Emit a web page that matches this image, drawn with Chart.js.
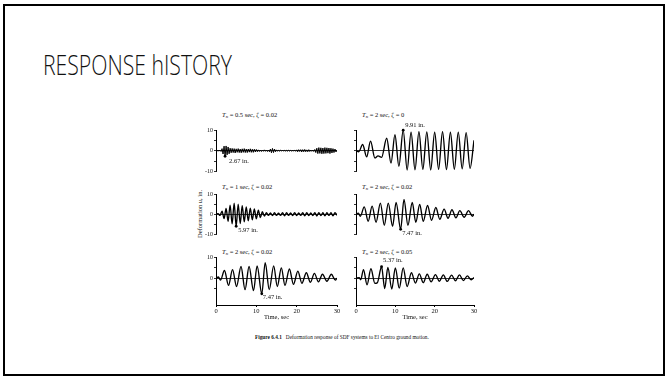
<!DOCTYPE html>
<html>
<head>
<meta charset="utf-8">
<script src="https://cdn.jsdelivr.net/npm/chart.js@4.4.1/dist/chart.umd.min.js"></script>
<style>
  html, body { margin: 0; padding: 0; background: #fff; }
  #slide { position: relative; width: 668px; height: 379px; overflow: hidden; }
  #frame { position: absolute; left: 3px; top: 4px; width: 662px; height: 372px; box-sizing: border-box; border: 2px solid #000; }
  #heading { position: absolute; left: 43px; top: 50px; font-family: "Open Sans"; font-weight: 300; font-size: 28px; line-height: 28px; color: #111; white-space: nowrap; transform-origin: 0 0; }
  canvas { position: absolute; }
  .ptitle { position: absolute; font-family: "Liberation Serif"; font-size: 6.5px; line-height: 8px; white-space: nowrap; color: #111; }
  .ptitle sub { font-size: 4.8px; line-height: 0; vertical-align: -1px; font-style: italic; }
  #ylab { position: absolute; left: 200px; top: 214px; font-family: "Liberation Serif"; font-size: 6.5px; line-height: 8px; white-space: nowrap; transform: translate(-50%, -50%) rotate(-90deg); color: #111; }
  #caption { position: absolute; left: 255px; top: 334px; font-family: "Liberation Serif"; font-size: 5.3px; line-height: 7px; white-space: nowrap; color: #111; }
</style>
</head>
<body>
<div id="slide">
  <div id="frame"></div>
  <div id="heading">RESPONSE hISTORY</div>

  <div class="ptitle" style="left:222px; top:111px"><i>T</i><sub>n</sub> = 0.5 sec, ζ = 0.02</div>
  <div class="ptitle" style="left:222px; top:183px"><i>T</i><sub>n</sub> = 1 sec, ζ = 0.02</div>
  <div class="ptitle" style="left:222px; top:248px"><i>T</i><sub>n</sub> = 2 sec, ζ = 0.02</div>
  <div class="ptitle" style="left:362px; top:111px"><i>T</i><sub>n</sub> = 2 sec, ζ = 0</div>
  <div class="ptitle" style="left:362px; top:183px"><i>T</i><sub>n</sub> = 2 sec, ζ = 0.02</div>
  <div class="ptitle" style="left:362px; top:248px"><i>T</i><sub>n</sub> = 2 sec, ζ = 0.05</div>

  <div id="ylab">Deformation <i>u</i>, in.</div>

  <canvas id="l1" width="146" height="56" style="left:196px; top:120px"></canvas>
  <canvas id="l2" width="146" height="55" style="left:196px; top:184px"></canvas>
  <canvas id="l3" width="146" height="74" style="left:196px; top:247px"></canvas>
  <canvas id="r1" width="128" height="56" style="left:352px; top:120px"></canvas>
  <canvas id="r2" width="128" height="55" style="left:352px; top:184px"></canvas>
  <canvas id="r3" width="128" height="74" style="left:352px; top:247px"></canvas>

  <div id="caption"><b>Figure 6.4.1</b>&nbsp;&nbsp;&nbsp;Deformation response of SDF systems to El Centro ground motion.</div>
</div>

<script>
// time axis ticks (sec) and deformation ticks (in.)
const timeTicks = [0, 10, 20, 30];
const defTicks = [-10, 0, 10];

// Tn = 0.5 sec, zeta = 0.02 : one reading every 0.25 sec
const tn05Step = 0.25;
const tn05Values = [
  0, -0.05, 0.05, -0.1,
  0.2, -0.4, 1.0, -1.6,
  2.2, -2.67, 2.3, -2.0,
  1.8, -1.5, 1.2, -1.0,
  1.1, -0.9, 1.0, -1.1,
  0.9, -0.8, 1.0, -0.9,
  0.8, -1.0, 0.9, -0.8,
  1.0, -0.9, 0.8, -0.9,
  0.8, -0.7, 0.9, -0.8,
  0.7, -0.8, 0.7, -0.6,
  0.6, -0.5, 0.4, -0.4,
  0.3, -0.4, 0.3, -0.3,
  0.4, -0.3, 0.3, -0.4,
  0.3, -0.5, 0.8, -1.0,
  1.1, -0.9, 0.8, -0.5,
  0.4, -0.3, 0.2, -0.2,
  0.2, -0.2, 0.3, -0.2,
  0.2, -0.3, 0.2, -0.2,
  0.2, -0.2, 0.2, -0.3,
  0.3, -0.2, 0.2, -0.3,
  0.4, -0.5, 0.5, -0.4,
  0.5, -0.6, 0.5, -0.5,
  0.6, -0.5, 0.4, -0.5,
  0.5, -0.4, 0.3, -0.3,
  0.3, -0.4, 0.6, -0.9,
  1.2, -1.4, 1.5, -1.3,
  1.4, -1.5, 1.3, -1.4,
  1.5, -1.3, 1.4, -1.2,
  1.3, -1.4, 1.2, -1.1,
  1.0, -0.9, 0.8, -0.6,
  0.3
];

// Tn = 1 sec, zeta = 0.02 : one reading every 0.5 sec
const tn1Step = 0.5;
const tn1Values = [
  0, 0.3, -0.6, 1.5, -2.2, 2.8, -3.5, 4.5, -4.8, 5.5,
  -5.97, 5.0, -4.6, 4.2, -3.8, 3.6, -3.3, 3.0, -2.8, 2.6,
  -2.3, 2.0, -1.7, 1.2, -0.9, 0.7, -0.6, 0.6, -0.7, 0.7,
  -0.6, 0.5, -0.6, 0.7, -0.8, 0.7, -0.6, 0.6, -0.7, 0.8,
  -0.7, 0.6, -0.6, 0.7, -0.8, 0.8, -0.7, 0.6, -0.7, 0.8,
  -0.9, 0.8, -0.7, 0.7, -0.8, 0.7, -0.6, 0.7, -0.8, 0.7,
  -0.5
];

// Tn = 2 sec, zeta = 0.02 : peaks and troughs
const tn2z002Times = [0, 0.6, 1.1, 2.1, 3.1, 4.1, 5.1, 6.2, 7.2, 8.2, 9.3, 10.2, 11.35, 12.2, 13.2, 14.3,
  15.2, 16.2, 17.1, 18.2, 19.2, 20.3, 21.3, 22.4, 23.4, 24.4, 25.4, 26.4, 27.5, 28.6, 29.6, 30];
const tn2z002Values = [0, 0.5, -1.0, 3.6, -3.5, 4.0, -4.0, 5.5, -5.5, 5.5, -6.0, 5.8, -7.47, 7.3, -5.5, 5.8,
  -4.0, 4.8, -3.5, 4.3, -3.0, 3.3, -2.5, 2.5, -2.0, 2.2, -1.8, 1.8, -1.5, 1.8, -1.0, 0];

// Tn = 2 sec, zeta = 0 : peaks and troughs
const tn2z0Times = [0, 0.7, 1.7, 2.7, 3.7, 4.8, 5.6, 6.5, 7.8, 8.9, 9.9, 10.9, 12.0, 13.0, 14.0, 15.0,
  16.0, 17.0, 18.0, 19.0, 20.0, 21.0, 22.0, 23.0, 24.0, 25.0, 26.0, 27.0, 28.0, 29.0, 30.0];
const tn2z0Values = [0, -0.5, 3.0, -3.0, 4.6, -3.5, -2.5, -3.2, 6.0, -6.0, 7.7, -7.5, 9.91, -9.3, 9.0, -9.2,
  9.2, -9.0, 9.1, -9.3, 9.0, -9.0, 9.2, -9.1, 8.9, -9.0, 9.0, -8.8, 8.7, -8.5, 5.0];

// Tn = 2 sec, zeta = 0.05 : peaks and troughs
const tn2z005Times = [0, 0.8, 1.2, 1.9, 2.8, 3.8, 4.8, 5.4, 6.5, 7.3, 8.1, 9.1, 10.0, 11.0, 12.0, 13.0, 14.1,
  15.1, 16.1, 17.1, 18.1, 19.1, 20.2, 21.2, 22.2, 23.2, 24.3, 25.3, 26.3, 27.3, 28.3, 29.3, 30];
const tn2z005Values = [0, 0.2, -0.8, 4.0, -3.2, 4.4, -2.5, -2.3, 5.37, -5.0, 5.0, -5.2, 4.8, -4.8, 4.8, -4.0, 2.5,
  -2.4, 2.0, -2.2, 1.8, -1.8, 1.6, -1.5, 1.5, -1.6, 1.4, -1.3, 1.5, -1.2, 1.0, -0.8, 0.3];

const serif = '"Liberation Serif", "DejaVu Serif", serif';

function stepped(values, step) {
  return values.map((v, i) => ({ x: i * step, y: v }));
}
function paired(times, values) {
  return times.map((t, i) => ({ x: t, y: values[i] }));
}

// marks the largest |u| of the trace and writes its value
const peakNote = {
  id: 'peakNote',
  afterDatasetsDraw(chart, args, opts) {
    const pts = chart.data.datasets[0].data;
    let best = pts[0];
    pts.forEach(p => { if (Math.abs(p.y) > Math.abs(best.y)) best = p; });
    const px = chart.scales.x.getPixelForValue(best.x);
    const py = chart.scales.y.getPixelForValue(best.y);
    const ctx = chart.ctx;
    ctx.save();
    ctx.fillStyle = '#000';
    ctx.beginPath();
    ctx.arc(px, py, 1.4, 0, Math.PI * 2);
    ctx.fill();
    ctx.font = '6.5px ' + serif;
    ctx.textBaseline = 'middle';
    ctx.fillStyle = '#111';
    ctx.fillText(Math.abs(best.y).toFixed(2) + ' in.', px + opts.dx, py + opts.dy);
    ctx.restore();
  }
};

function makePanel(id, points, cfg) {
  const bottom = cfg.bottom;
  new Chart(document.getElementById(id), {
    type: 'line',
    data: {
      datasets: [{
        data: points,
        borderColor: '#000',
        borderWidth: cfg.lw || 1.35,
        pointRadius: 0,
        cubicInterpolationMode: cfg.smooth ? 'monotone' : 'default',
        tension: 0,
      }],
    },
    options: {
      responsive: false,
      animation: false,
      events: [],
      layout: { padding: { top: 10, right: cfg.padRight, bottom: bottom ? 0 : 3, left: 0 } },
      plugins: {
        legend: { display: false },
        tooltip: { enabled: false },
        peakNote: cfg.note,
      },
      scales: {
        x: {
          type: 'linear',
          min: 0,
          max: 30,
          display: bottom,
          afterFit: (s) => { if (bottom) s.height = 16; },
          afterBuildTicks: (s) => { s.ticks = timeTicks.map(v => ({ value: v })); },
          border: { color: '#000', width: 1 },
          grid: { drawOnChartArea: false, tickLength: 2, tickColor: '#000' },
          ticks: { font: { family: serif, size: 6.5 }, color: '#111', padding: 0, maxRotation: 0 },
          title: { display: true, text: 'Time, sec', font: { family: serif, size: 6.5 }, color: '#111', padding: { top: 0, bottom: 0 } },
        },
        y: {
          min: bottom ? -12.8 : -10,
          max: 10,
          afterFit: (s) => { s.width = cfg.axisWidth; },
          afterBuildTicks: (s) => { s.ticks = s.ticks.filter(t => t.value >= -10 && t.value % 5 === 0); },
          border: { color: '#000', width: 1 },
          grid: {
            color: (c) => (c.tick && c.tick.value === 0 ? '#000' : 'rgba(0,0,0,0)'),
            lineWidth: 0.8,
            tickLength: 2,
            tickColor: '#000',
          },
          ticks: {
            stepSize: 5,
            padding: 1,
            font: { family: serif, size: 6 },
            color: '#111',
            callback: (v) => (cfg.labels && defTicks.includes(v) ? String(v) : ''),
          },
        },
      },
    },
    plugins: [peakNote],
  });
}

makePanel('l1', stepped(tn05Values, tn05Step), { bottom: false, labels: true, axisWidth: 20, padRight: 5, lw: 1.0, note: { dx: 4, dy: 5 } });
makePanel('l2', stepped(tn1Values, tn1Step), { bottom: false, labels: true, axisWidth: 20, padRight: 5, smooth: true, note: { dx: 2, dy: 4 } });
makePanel('l3', paired(tn2z002Times, tn2z002Values), { bottom: true, labels: true, axisWidth: 20, padRight: 5, smooth: true, note: { dx: 1, dy: 4 } });
makePanel('r1', paired(tn2z0Times, tn2z0Values), { bottom: false, labels: false, axisWidth: 4, padRight: 6, smooth: true, note: { dx: 2, dy: -5 } });
makePanel('r2', paired(tn2z002Times, tn2z002Values), { bottom: false, labels: false, axisWidth: 4, padRight: 6, smooth: true, note: { dx: 1.5, dy: 4 } });
makePanel('r3', paired(tn2z005Times, tn2z005Values), { bottom: true, labels: false, axisWidth: 4, padRight: 6, smooth: true, note: { dx: 1.5, dy: -6 } });

// squeeze the slide heading to the width it has in the slide
const heading = document.getElementById('heading');
const hw = heading.getBoundingClientRect().width;
heading.style.transform = 'scaleX(' + (189 / hw) + ')';
</script>
</body>
</html>
